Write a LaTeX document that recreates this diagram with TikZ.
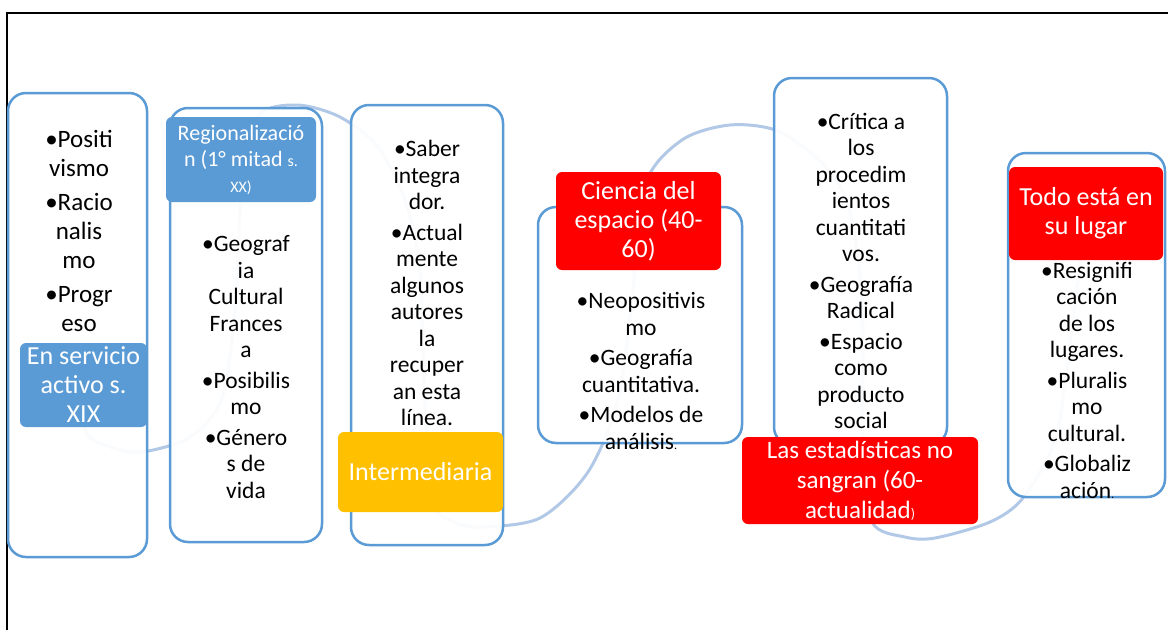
\documentclass[tikz,border=0pt]{standalone}
\usepackage{fontspec}
\setmainfont{Carlito}
\usetikzlibrary{backgrounds}
\definecolor{smartblue}{RGB}{91,155,213}
\definecolor{wavecol}{RGB}{178,200,231}
\definecolor{gold}{RGB}{255,192,0}
\definecolor{brightred}{RGB}{255,0,0}

\begin{document}
\begin{tikzpicture}[x=1pt, y=-1pt,
        panel/.style={draw=smartblue, line width=2.5pt, rounded corners=18pt, fill=white, fill opacity=0.93},
        heading/.style={rounded corners=6pt, text=white, align=center, inner sep=0pt, font=\fontsize{26}{29}\selectfont},
        items/.style={align=center, inner sep=0pt, font=\fontsize{23.5}{26.5}\selectfont},
        wave/.style={draw=wavecol, line width=3pt}]
        \useasboundingbox (0,0) rectangle (1168,630);
        \draw[line width=2pt] (7,630) -- (7,13) -- (1168,13);
        \draw[panel] (8,93) rectangle (147,557);
        \draw[panel] (170,108) rectangle (322,542);
        \draw[panel] (351,105) rectangle (503,545);
        \draw[panel] (538,207) rectangle (742,443);
        \draw[panel] (774,78) rectangle (947,445);
        \draw[panel] (1008,153) rectangle (1165,497);
        \node[items, font=\fontsize{25}{29}\selectfont] (positivismo) at (79,231) {•Positi\\vismo\\[5pt]•Racio\\nalis\\mo\\[5pt]•Progr\\eso};
        \node[items] (geografia) at (246,367) {•Geograf\\ia\\Cultural\\Frances\\a\\[4pt]•Posibilis\\mo\\[4pt]•Género\\s de\\vida};
        \node[items] (saber) at (427,283) {•Saber\\integra\\dor.\\[4pt]•Actual\\mente\\algunos\\autores\\la\\recuper\\an esta\\línea.};
        \node[items] (neopositivismo) at (641,371) {•Neopositivis\\mo\\[4pt]•Geografía\\cuantitativa.\\[4pt]•Modelos de\\análisis{\fontsize{12}{12}\selectfont.}};
        \node[items] (critica) at (861,271) {•Crítica a\\los\\procedim\\ientos\\cuantitati\\vos.\\[4pt]•Geografía\\Radical\\[4pt]•Espacio\\como\\producto\\social};
        \node[items] (resignificacion) at (1087,380) {•Resignifi\\cación\\de los\\lugares.\\[4pt]•Pluralis\\mo\\cultural.\\[4pt]•Globaliz\\ación{\fontsize{12}{12}\selectfont.}};
        \node[heading, fill=smartblue, minimum width=127pt, minimum height=84pt] (servicio) at (83.5,385) {En servicio\\activo s.\\XIX};
        \node[heading, fill=smartblue, minimum width=150pt, minimum height=85pt, font=\fontsize{22}{26}\selectfont] (regional) at (241,159.5) {Regionalizació\\n (1° mitad {\fontsize{16}{16}\selectfont s.}\\{\fontsize{16}{16}\selectfont XX)}};
        \node[heading, fill=gold, minimum width=165pt, minimum height=80pt] (intermedia) at (420.5,472) {Intermediaria};
        \node[heading, fill=brightred, minimum width=165pt, minimum height=98pt] (ciencia) at (638.5,221) {Ciencia del\\espacio (40-\\60)};
        \node[heading, fill=brightred, minimum width=236pt, minimum height=87pt, font=\fontsize{25}{30}\selectfont] (estadisticas) at (860,480.5) {Las estadísticas no\\sangran (60-\\actualidad{\fontsize{14}{14}\selectfont)}};
        \node[heading, fill=brightred, minimum width=154pt, minimum height=93pt] (lugar) at (1086,213.5) {Todo está en\\su lugar};
        \begin{scope}[on background layer]
            \draw[wave] plot[smooth] coordinates {(servicio) (86,432) (110,447) (142,452) (190,437) (222,398) (236,300) (242,180) (258,116) (297,105) (340,117) (378,147) (405,200) (420,270) (425,400) (432,500) (452,521) (480,527) (540,518) (588,472) (618,400) (632,300) (645,185) (682,140) (730,125) (778,131) (822,163) (848,205) (862,300) (863,450) (872,522) (905,537) (935,538) (990,522) (1023,498) (1055,440) (1068,360) (lugar)};
        \end{scope}
    \end{tikzpicture}
\end{document}
